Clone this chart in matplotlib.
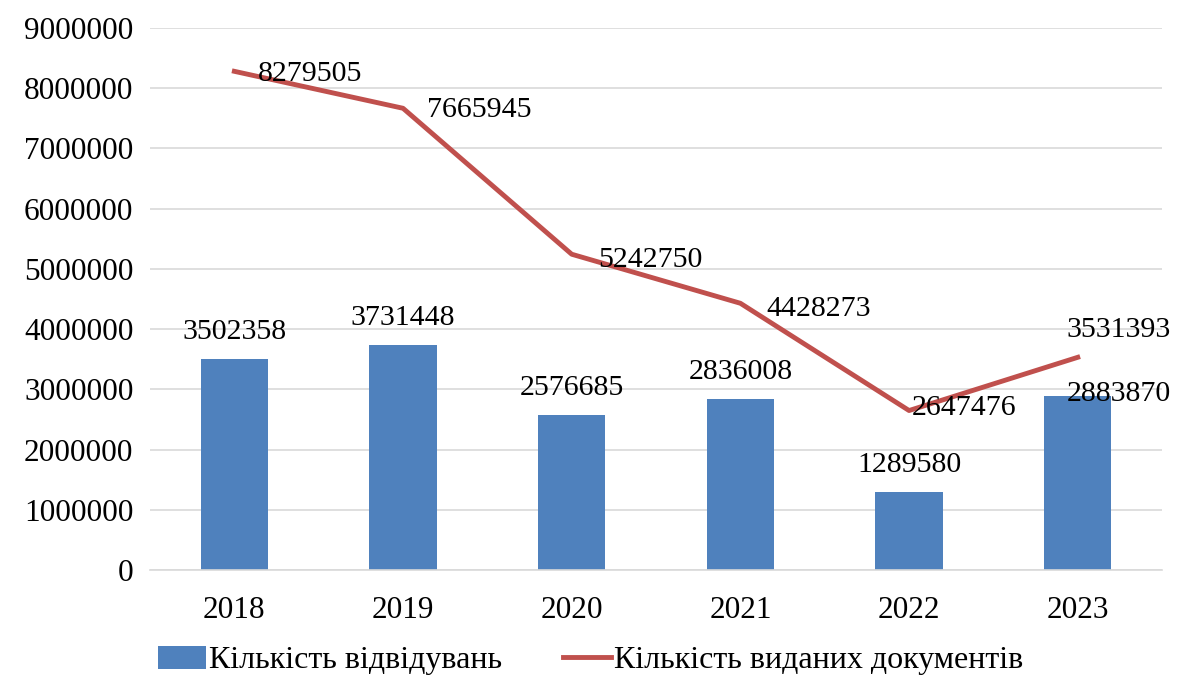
import matplotlib.pyplot as plt
import numpy as np

years = ['2018', '2019', '2020', '2021', '2022', '2023']
visits = [3502358, 3731448, 2576685, 2836008, 1289580, 2883870]
documents = [8279505, 7665945, 5242750, 4428273, 2647476, 3531393]

bar_color = '#4F81BD'
line_color = '#C0504D'

plt.rcParams['font.family'] = ['Liberation Serif', 'DejaVu Serif']

fig = plt.figure(figsize=(11.81, 6.81), dpi=100)
ax = fig.add_axes([0.127, 0.163, 0.857, 0.796])

x = np.arange(len(years))
bars = ax.bar(x, visits, width=0.4, color=bar_color, label='Кількість відвідувань', zorder=2)
line, = ax.plot(x, documents, color=line_color, linewidth=3.5, label='Кількість виданих документів', zorder=3)

# bar labels above bars (last one sits to the right)
for i, v in enumerate(visits):
    if i == len(visits) - 1:
        ax.annotate(str(v), (x[i], v), xytext=(-8, 2), textcoords='offset points',
                    ha='left', va='center', fontsize=21.5, zorder=4)
    else:
        ax.annotate(str(v), (x[i], v), xytext=(0, 10), textcoords='offset points',
                    ha='center', va='bottom', fontsize=21.5, zorder=4)

# line labels to the right of points
offsets = [(17, -2), (17, -1), (19, -4), (19, -4), (2, 2), (-8, 20)]
for i, v in enumerate(documents):
    ax.annotate(str(v), (x[i], v), xytext=offsets[i], textcoords='offset points',
                ha='left', va='center', fontsize=21.5, zorder=4)

ax.set_xlim(-0.5, len(years) - 0.5)
ax.set_ylim(0, 9000000)
ax.set_yticks(np.arange(0, 9000001, 1000000))
ax.set_yticklabels([str(t) for t in range(0, 9000001, 1000000)])
ax.set_xticks(x)
ax.set_xticklabels(years)
ax.tick_params(axis='both', length=0, labelsize=22.5, pad=12)
ax.tick_params(axis='x', pad=19)

ax.grid(axis='y', color='#D9D9D9', linewidth=1.2, zorder=0)
for s in ['top', 'right', 'left']:
    ax.spines[s].set_visible(False)
ax.spines['bottom'].set_color('#D9D9D9')
ax.spines['bottom'].set_linewidth(1.2)

fig.legend([bars, line], ['Кількість відвідувань', 'Кількість виданих документів'],
           loc='lower center', bbox_to_anchor=(0.5, -0.034), ncol=2, frameon=False,
           fontsize=23, handlelength=1.5, handleheight=0.75, handletextpad=0.1,
           columnspacing=1.9)

fig.savefig('out.png', dpi=100)
